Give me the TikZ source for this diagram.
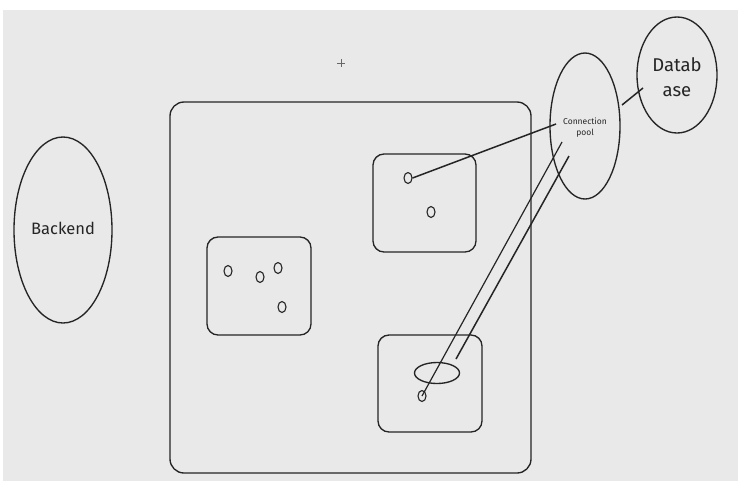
\documentclass[tikz,border=0pt]{standalone}
\usepackage{fontspec}
\setmainfont{Fira Sans}
\usetikzlibrary{shapes.geometric}
\definecolor{paper}{HTML}{E9E9E9}
\definecolor{ink}{HTML}{252525}
\tikzset{
  sketch/.style={draw=ink, line width=1.35pt},
  panel/.style={sketch, rounded corners=14pt},
  dot/.style={ellipse, sketch, line width=1.1pt, minimum width=8pt, minimum height=11pt, inner sep=0pt},
  bubble/.style={ellipse, sketch, inner sep=0pt},
  wire/.style={draw=ink, line width=1.5pt},
}
\begin{document}
\begin{tikzpicture}[x=1pt,y=-1pt]
  % canvas
  \fill[white] (0,0) rectangle (738,483);
  \useasboundingbox (0,0) rectangle (738,483);
  \fill[paper] (3,10) rectangle (738,481);

  % plus marker
  \draw[ink!70, line width=0.9pt] (337,63) -- (345,63) (341,59) -- (341,67);

  % backend
  \node[bubble, minimum width=98pt, minimum height=186pt] (backend) at (63,230) {};
  \node[font=\fontsize{16.5}{16.5}\selectfont, text=ink] (backendlbl) at (63,228) {Backend};

  % cluster and its groups
  \draw[panel] (170,102) rectangle (531,473);
  \draw[panel, rounded corners=11pt] (207,237) rectangle (311,335);
  \draw[panel, rounded corners=11pt] (373,154) rectangle (476,252);
  \draw[panel, rounded corners=11pt] (378,335) rectangle (482,432);

  % workers in the left group
  \node[dot] (l1) at (228,271) {};
  \node[dot] (l2) at (260,277) {};
  \node[dot] (l3) at (278,268) {};
  \node[dot] (l4) at (282,307) {};

  % workers in the upper-right group
  \node[dot] (u1) at (408,178) {};
  \node[dot] (u2) at (431,212) {};

  % lower-right group
  \node[dot] (b1) at (422,396) {};
  \node[ellipse, sketch, minimum width=45pt, minimum height=21pt, inner sep=0pt] (ring) at (437,373) {};

  % connection pool
  \node[bubble, minimum width=70pt, minimum height=146pt] (pool) at (585,126) {};
  \node[font=\fontsize{8.5}{11}\selectfont, text=ink, align=center] (poollbl) at (585,128) {Connection\\pool};

  % database
  \node[bubble, minimum width=80pt, minimum height=116pt] (db) at (677,75) {};
  \node[font=\fontsize{18.5}{25}\selectfont, text=ink, align=center] (dblbl) at (677,77) {Datab\\ase};

  % links
  \coordinate (poolL) at (556,124);
  \coordinate (poolA) at (562,142);
  \coordinate (poolB) at (569,156);
  \coordinate (endB) at (456,359);
  \coordinate (dbL) at (643,88);
  \coordinate (poolR) at (622,105);
  \draw[wire] (u1.east) -- (poolL);
  \draw[wire, line width=1.2pt] (poolA) -- (b1.center);
  \draw[wire] (poolB) -- (endB);
  \draw[wire] (poolR) -- (dbL);
\end{tikzpicture}
\end{document}
